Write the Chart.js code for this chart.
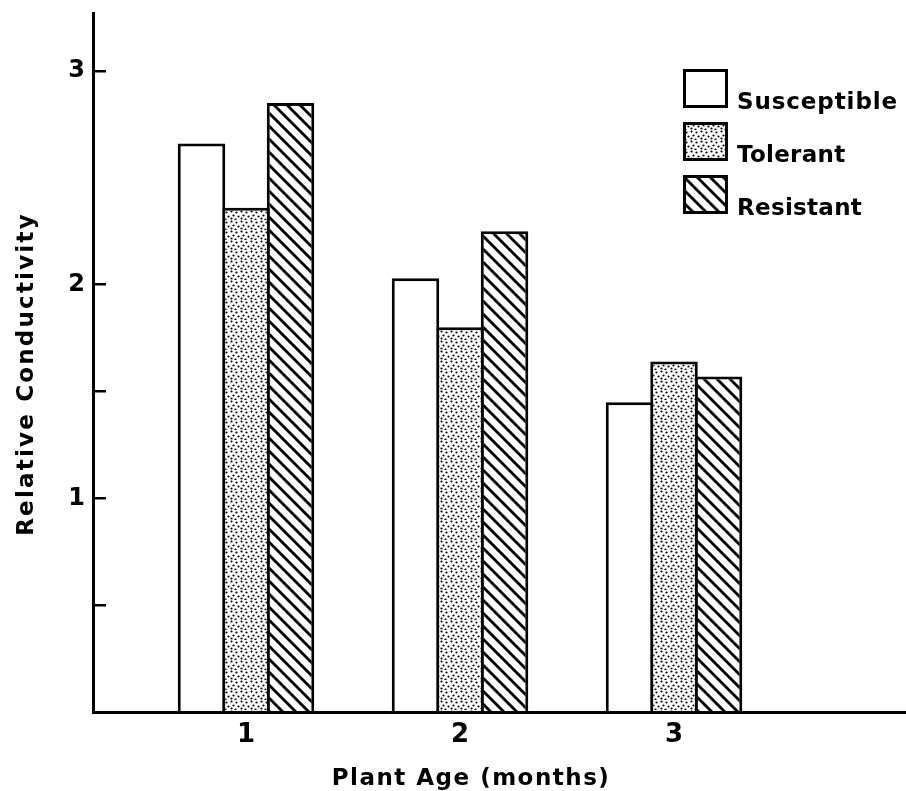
<!DOCTYPE html>
<html><head><meta charset="utf-8">
<script src="https://cdn.jsdelivr.net/npm/chart.js@4.4.1/dist/chart.umd.min.js"></script>
<style>html,body{margin:0;padding:0;background:#fff;}canvas{display:block;}</style>
</head><body>
<canvas id="c" width="906" height="791"></canvas>
<script>
// ---- data ----
const categories = [1, 2, 3];
const seriesNames = ['Susceptible', 'Tolerant', 'Resistant'];
const susceptible = [2.66, 2.03, 1.45];
const tolerant = [2.36, 1.80, 1.64];
const resistant = [2.85, 2.25, 1.57];
const yTicks = [0.5, 1, 1.5, 2, 3];
const yLabelled = [1, 2, 3];
const xTicks = [1, 2, 3];
const xTitle = 'Plant Age (months)';
const yTitle = 'Relative Conductivity';

const FAMILY = '"DejaVu Sans", "Liberation Sans", sans-serif';
const canvas = document.getElementById('c');
const mainCtx = canvas.getContext('2d');

function dotPattern() {
  const c = document.createElement('canvas'); c.width = 10; c.height = 10;
  const g = c.getContext('2d');
  g.fillStyle = '#fff'; g.fillRect(0, 0, 10, 10);
  g.fillStyle = '#000';
  [[1,1],[6,2],[3,5],[8,6],[1,8],[5,9]].forEach(([x, y]) => {
    g.beginPath(); g.arc(x + 0.5, y + 0.5, 1.1, 0, Math.PI * 2); g.fill();
  });
  return mainCtx.createPattern(c, 'repeat');
}
function hatchPattern() {
  const s = 13;
  const c = document.createElement('canvas'); c.width = s; c.height = s;
  const g = c.getContext('2d');
  g.fillStyle = '#fff'; g.fillRect(0, 0, s, s);
  g.strokeStyle = '#000'; g.lineWidth = 2.8; g.lineCap = 'square';
  [-s, 0, s].forEach(k => { g.beginPath(); g.moveTo(k - 2, -2); g.lineTo(k + s + 2, s + 2); g.stroke(); });
  return mainCtx.createPattern(c, 'repeat');
}
const fills = ['#ffffff', dotPattern(), hatchPattern()];

const boxLegend = {
  id: 'boxLegend',
  afterDraw(chart) {
    const ctx = chart.ctx;
    const x = 683, w = 45, h = 39, y0 = 69, step = 53;
    ctx.save();
    chart.data.datasets.forEach((ds, i) => {
      const y = y0 + i * step;
      ctx.fillStyle = ds.backgroundColor; ctx.fillRect(x, y, w, h);
      ctx.lineWidth = 3; ctx.strokeStyle = '#000'; ctx.strokeRect(x + 1.5, y + 1.5, w - 3, h - 3);
      ctx.fillStyle = '#000'; ctx.font = 'bold 23px ' + FAMILY;
      ctx.letterSpacing = i === 0 ? '0.9px' : '0.3px';
      ctx.textAlign = 'left'; ctx.textBaseline = 'alphabetic';
      ctx.fillText(ds.label, 737, y + h + 1);
    });
    ctx.restore();
  }
};
const axisTitles = {
  id: 'axisTitles',
  afterDraw(chart) {
    const ctx = chart.ctx;
    ctx.save();
    ctx.fillStyle = '#000'; ctx.font = 'bold 23px ' + FAMILY;
    ctx.textAlign = 'center'; ctx.textBaseline = 'alphabetic';
    ctx.letterSpacing = '1.5px';
    ctx.fillText(xTitle, 471, 785);
    ctx.translate(33, 375); ctx.rotate(-Math.PI / 2);
    ctx.letterSpacing = '2.2px';
    ctx.fillText(yTitle, 1, 0);
    ctx.restore();
  }
};

new Chart(canvas, {
  type: 'bar',
  data: {
    labels: categories,
    datasets: [susceptible, tolerant, resistant].map((d, i) => ({
      label: seriesNames[i], data: d, backgroundColor: fills[i],
      borderColor: '#000', borderWidth: 3, borderSkipped: 'start', inflateAmount: 0,
      categoryPercentage: 0.624, barPercentage: 1.067
    }))
  },
  options: {
    responsive: false, animation: false, devicePixelRatio: 1,
    layout: { autoPadding: false, padding: { top: 13, left: 0, right: 0, bottom: 0 } },
    plugins: { legend: { display: false }, tooltip: { enabled: false } },
    scales: {
      x: {
        type: 'linear', min: 0.285, max: 4.084, offset: false,
        afterBuildTicks: s => { s.ticks = xTicks.map(v => ({ value: v })); },
        afterFit: s => { s.height = 79; s.paddingLeft = 0; s.paddingRight = 0; s.paddingTop = 0; s.paddingBottom = 0; },
        grid: { display: false, drawTicks: false },
        border: { display: true, color: '#000', width: 3, z: 1 },
        ticks: { color: '#000', font: { family: FAMILY, weight: 'bold', size: 26 }, padding: 8,
                 maxRotation: 0, autoSkip: false, callback: v => String(v) }
      },
      y: {
        min: 0, max: 3.271,
        afterBuildTicks: s => { s.ticks = yTicks.map(v => ({ value: v })); },
        afterFit: s => { s.width = 93; s.paddingLeft = 0; s.paddingRight = 0; s.paddingTop = 0; s.paddingBottom = 0; },
        grid: { color: '#000', lineWidth: 2.5, drawTicks: false, drawOnChartArea: true },
        border: { display: true, color: '#000', width: 3, dash: [11, 4000], z: 1 },
        ticks: { color: '#000', font: { family: FAMILY, weight: 'bold', size: 24 }, padding: 8,
                 callback: v => yLabelled.includes(v) ? String(v) : '' }
      }
    }
  },
  plugins: [boxLegend, axisTitles]
});
</script>
</body></html>
